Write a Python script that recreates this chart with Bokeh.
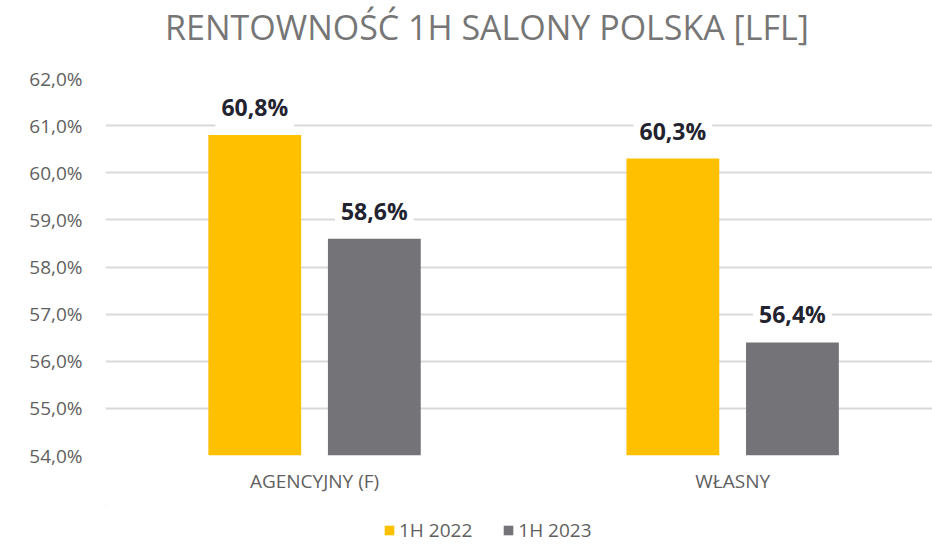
from bokeh.plotting import figure
from bokeh.layouts import column
from bokeh.models import (ColumnDataSource, FixedTicker, Range1d, Legend, LegendItem)
from bokeh.core.properties import value
from bokeh.embed import file_html
from bokeh.resources import INLINE

title_text = ["RENTOWNOŚĆ 1H SALONY POLSKA [LFL]"]
categories = ["AGENCYJNY (F)", "WŁASNY"]
series_names = ["1H 2022", "1H 2023"]
values_2022 = [60.8, 60.3]
values_2023 = [58.6, 56.4]
labels_2022 = ["60,8%", "60,3%"]
labels_2023 = ["58,6%", "56,4%"]
y_ticks = [54, 55, 56, 57, 58, 59, 60, 61, 62]
y_tick_labels = ["54,0%", "55,0%", "56,0%", "57,0%", "58,0%", "59,0%", "60,0%", "61,0%", "62,0%"]

YELLOW = "#FFC000"
GREY = "#747378"
TEXT_GREY = "#5f5f5f"
FONT = "Open Sans"

idx = list(range(len(categories)))
off = 0.143
bw = 0.222

src22 = ColumnDataSource(dict(x=[i - off for i in idx], top=values_2022, lab=labels_2022))
src23 = ColumnDataSource(dict(x=[i + off for i in idx], top=values_2023, lab=labels_2023))


def strip(h, x0=0, x1=1):
    f = figure(width=932, height=h, output_backend="svg", toolbar_location=None,
               x_range=Range1d(x0, x1), y_range=Range1d(0, 1),
               min_border_left=0, min_border_right=0, min_border_top=0, min_border_bottom=0)
    f.axis.visible = False
    f.grid.visible = False
    f.outline_line_color = None
    return f


# title strip
ts = strip(64)
ts.text(x=[0.5], y=[0.5], text=title_text, text_align="center", text_baseline="middle",
        x_offset=-32, y_offset=-6, text_font=value(FONT), text_font_size="34px",
        text_color="#767676")

p = figure(width=932, height=441, output_backend="svg", toolbar_location=None,
           x_range=Range1d(-0.5, 1.478), y_range=Range1d(54, 62),
           min_border_left=105, min_border_right=0, min_border_top=14, min_border_bottom=50)
p.outline_line_color = None

p.vbar(x="x", top="top", bottom=54, width=bw, source=src22, fill_color=YELLOW, line_color=None)
p.vbar(x="x", top="top", bottom=54, width=bw, source=src23, fill_color=GREY, line_color=None)

for s in (src22, src23):
    p.text(x="x", y="top", text="lab", source=s, text_align="center", text_baseline="bottom",
           y_offset=-6, text_font=value(FONT), text_font_size="23px", text_font_style="bold",
           text_color="#23232f", background_fill_color="white", padding=6)

p.yaxis.ticker = FixedTicker(ticks=y_ticks)
p.yaxis.major_label_overrides = {t_: l for t_, l in zip(y_ticks, y_tick_labels)}
p.xaxis.ticker = FixedTicker(ticks=idx)
p.xaxis.major_label_overrides = {i: c for i, c in zip(idx, categories)}
for ax in (p.xaxis, p.yaxis):
    ax.axis_line_color = None
    ax.major_tick_line_color = None
    ax.minor_tick_line_color = None
    ax.major_label_text_font = FONT
    ax.major_label_text_font_size = "19px"
    ax.major_label_text_color = TEXT_GREY
p.yaxis.major_label_standoff = 17
p.xaxis.major_label_standoff = 6
p.xgrid.grid_line_color = None
p.ygrid.ticker = FixedTicker(ticks=y_ticks)
p.ygrid.grid_line_color = "#d9d9d9"
p.ygrid.grid_line_width = 2

# legend strip below the chart (its bars lie far outside its visible range; only the legend shows)
lg = strip(42, 10, 11)
e1 = lg.vbar(x="x", top="top", bottom=54, width=bw, source=src22, fill_color=YELLOW, line_color=None)
e2 = lg.vbar(x="x", top="top", bottom=54, width=bw, source=src23, fill_color=GREY, line_color=None)
legend = Legend(items=[LegendItem(label=series_names[0], renderers=[e1]),
                       LegendItem(label=series_names[1], renderers=[e2])],
                orientation="horizontal", location=(278, 4), border_line_color=None,
                background_fill_alpha=0,
                label_text_font=FONT, label_text_font_size="19px", label_text_color=TEXT_GREY,
                glyph_width=12, glyph_height=12, spacing=30, label_standoff=4, padding=0, margin=0)
lg.add_layout(legend)

layout = column(ts, p, lg, spacing=0)
open("out.html", "w").write(file_html(layout, INLINE))
